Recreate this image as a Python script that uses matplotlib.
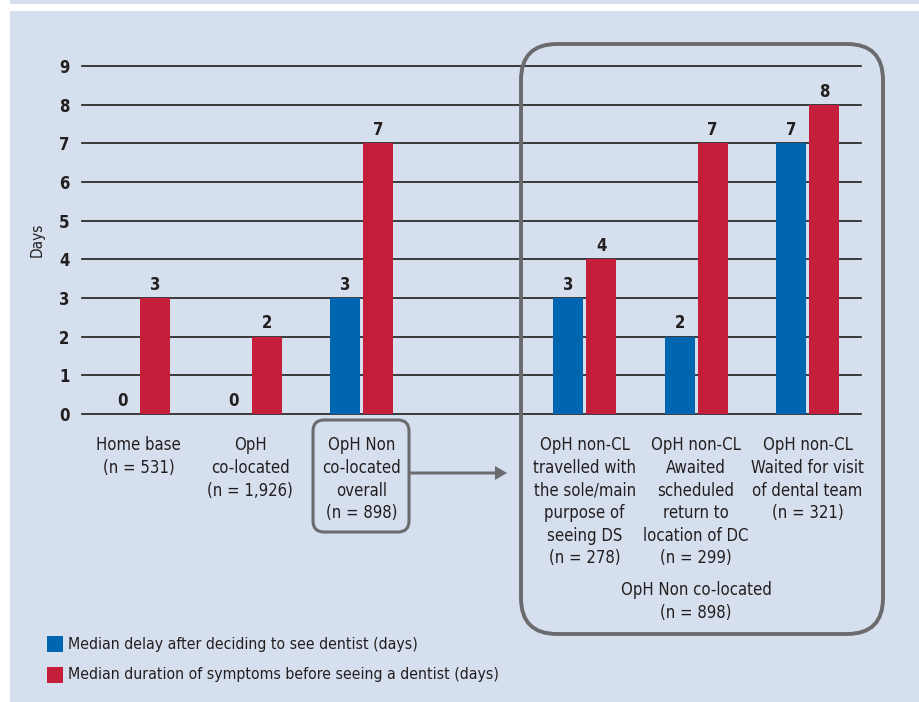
import matplotlib
matplotlib.use("Agg")
import matplotlib.pyplot as plt
from matplotlib.patches import FancyBboxPatch, Rectangle, FancyArrow

plt.rcParams['font.family'] = ['DejaVu Sans']
plt.rcParams['font.stretch'] = 'condensed'

# --- data ---
categories = [
    "Home base\n(n = 531)",
    "OpH\nco-located\n(n = 1,926)",
    "OpH Non\nco-located\noverall\n(n = 898)",
    "OpH non-CL\ntravelled with\nthe sole/main\npurpose of\nseeing DS\n(n = 278)",
    "OpH non-CL\nAwaited\nscheduled\nreturn to\nlocation of DC\n(n = 299)",
    "OpH non-CL\nWaited for visit\nof dental team\n(n = 321)",
]
positions = [0, 1, 2, 4, 5, 6]
delay_days = [0, 0, 3, 3, 2, 7]
symptom_days = [3, 2, 7, 4, 7, 8]
legend_labels = [
    "Median delay after deciding to see dentist (days)",
    "Median duration of symptoms before seeing a dentist (days)",
]
group_label = "OpH Non co-located\n(n = 898)"

BLUE = "#0066b0"
RED = "#c41e3a"
BG = "#d6dfee"
GREY = "#6b6b6e"
INK = "#231f20"

W, H = 920, 702
fig = plt.figure(figsize=(W / 100, H / 100), dpi=100)
fig.patch.set_facecolor("white")


def inch(x, y):
    # pixel (from top-left) -> inches (from bottom-left)
    return x / 100, (H - y) / 100


# background panels
fig.patches.append(Rectangle(inch(10, 4), 9.2, 0.04, transform=fig.dpi_scale_trans,
                             facecolor=BG, edgecolor="none", zorder=-5))
fig.patches.append(Rectangle(inch(10, 702), 9.2, (702 - 11) / 100, transform=fig.dpi_scale_trans,
                             facecolor=BG, edgecolor="none", zorder=-5))

ax = fig.add_axes([82 / W, (H - 414) / H, (861 - 82) / W, (414 - 66) / H])
ax.set_facecolor("none")

bw = 0.27
off = 0.148
xs_b = [p - off for p in positions]
xs_r = [p + off for p in positions]
ax.bar(xs_b, delay_days, width=bw, color=BLUE, zorder=3)
ax.bar(xs_r, symptom_days, width=bw, color=RED, zorder=3)

for x, v in zip(xs_b, delay_days):
    ax.annotate(str(v), (x, v), xytext=(0, 3), textcoords="offset points",
                ha="center", va="bottom", fontsize=12, fontweight="bold", color=INK)
for x, v in zip(xs_r, symptom_days):
    ax.annotate(str(v), (x, v), xytext=(0, 3), textcoords="offset points",
                ha="center", va="bottom", fontsize=12, fontweight="bold", color=INK)

ax.set_xlim(-0.51, 6.48)
ax.set_ylim(0, 9)
ax.set_yticks(range(10))
ax.yaxis.grid(True, color="#1e1e1e", lw=1.2, zorder=1)
for gl in ax.get_ygridlines():
    gl.set_clip_on(False)
ax.set_axisbelow(True)
for s in ax.spines.values():
    s.set_visible(False)
ax.tick_params(axis="y", length=0, pad=9, labelsize=12)
for t in ax.get_yticklabels():
    t.set_fontweight("bold")
    t.set_color(INK)
ax.set_xticks([])
ax.set_ylabel("Days", fontsize=11, color=INK, labelpad=10)

# category labels below the axis
for p, lab in zip(positions, categories):
    ax.text(p, -0.064, lab, transform=ax.get_xaxis_transform(), ha="center", va="top",
            fontsize=12, linespacing=1.33, color=INK)
ax.text(5, -0.48, group_label, transform=ax.get_xaxis_transform(), ha="center", va="top",
        fontsize=12, linespacing=1.33, color=INK)

# rounded boxes
x0, y0 = inch(313, 532)
fig.patches.append(FancyBboxPatch((x0, y0), 0.96, 1.12,
                                  boxstyle="round,pad=0,rounding_size=0.11",
                                  transform=fig.dpi_scale_trans, facecolor="none",
                                  edgecolor=GREY, lw=2.2, zorder=5))
x0, y0 = inch(521, 634)
fig.patches.append(FancyBboxPatch((x0, y0), 3.62, 5.90,
                                  boxstyle="round,pad=0,rounding_size=0.36",
                                  transform=fig.dpi_scale_trans, facecolor="none",
                                  edgecolor=GREY, lw=2.8, zorder=5))

# arrow
ax0, ay0 = inch(410, 473)
fig.patches.append(FancyArrow(ax0, ay0, 0.97, 0, width=0.03, head_width=0.14, head_length=0.12,
                              length_includes_head=True, transform=fig.dpi_scale_trans,
                              color=GREY, lw=0, zorder=5))

# legend
for i, (c, lab) in enumerate(zip([BLUE, RED], legend_labels)):
    cy = 644 + i * 31
    lx, ly = inch(47, cy + 8)
    fig.patches.append(Rectangle((lx, ly), 0.16, 0.16, transform=fig.dpi_scale_trans,
                                 facecolor=c, edgecolor="none", zorder=5))
    fig.text(68 / W, (H - cy) / H, lab, ha="left", va="center", fontsize=11.3, color=INK)

fig.savefig("out.png", dpi=100)
